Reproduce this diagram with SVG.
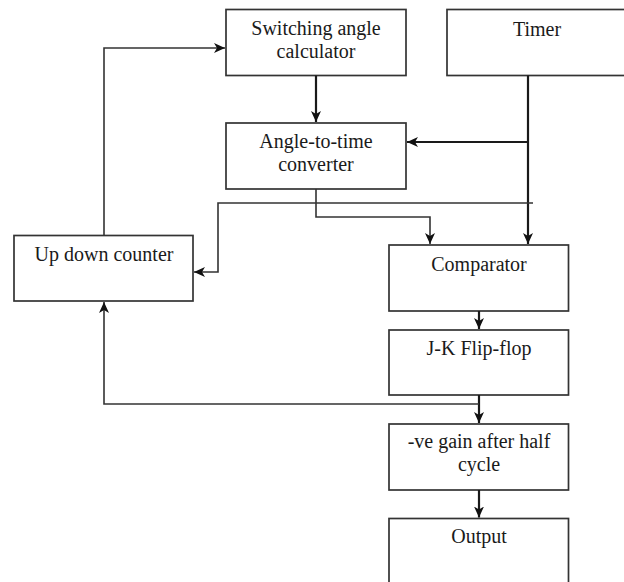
<svg xmlns="http://www.w3.org/2000/svg" width="624" height="582" viewBox="0 0 624 582">
<style>
  .box { fill: #fff; stroke: #333; stroke-width: 1.7; }
  .lbl { font-family: "Liberation Serif", "Times New Roman", serif; font-size: 20px; fill: #1a1a1a; text-anchor: middle; }
  .w { fill: none; stroke: #1a1a1a; stroke-width: 2.2; }
  .t { fill: none; stroke: #333; stroke-width: 1.6; }
</style>
<defs>
  <marker id="ah" markerUnits="userSpaceOnUse" markerWidth="11" markerHeight="11" viewBox="0 0 11 11" refX="11" refY="5.5" orient="auto">
    <path d="M0,0.5 L11,5.5 L0,10.5 L3,5.5 Z" fill="#111"/>
  </marker>
</defs>
<rect width="624" height="582" fill="#fff"/>
<g id="switching">
  <rect class="box" x="226" y="9.5" width="180" height="66"/>
  <text class="lbl" x="316" y="35">Switching angle</text>
  <text class="lbl" x="316" y="58">calculator</text>
</g>
<g id="timer">
  <rect class="box" x="447" y="9.5" width="185" height="66"/>
  <text class="lbl" x="537" y="36">Timer</text>
</g>
<g id="angle">
  <rect class="box" x="226" y="123" width="180" height="66"/>
  <text class="lbl" x="316" y="148">Angle-to-time</text>
  <text class="lbl" x="316" y="171">converter</text>
</g>
<g id="updown">
  <rect class="box" x="14" y="235.5" width="179" height="65.5"/>
  <text class="lbl" x="104" y="261">Up down counter</text>
</g>
<g id="comparator">
  <rect class="box" x="389" y="245" width="179.5" height="66"/>
  <text class="lbl" x="479" y="271">Comparator</text>
</g>
<g id="jk">
  <rect class="box" x="389" y="330" width="179.5" height="65"/>
  <text class="lbl" x="479" y="355">J-K Flip-flop</text>
</g>
<g id="gain">
  <rect class="box" x="389" y="424" width="179.5" height="66"/>
  <text class="lbl" x="479" y="448">-ve gain after half</text>
  <text class="lbl" x="479" y="471">cycle</text>
</g>
<g id="output">
  <rect class="box" x="389" y="518.5" width="179.5" height="80"/>
  <text class="lbl" x="479" y="543">Output</text>
</g>
<g id="connectors">
  <path class="t" d="M104,235.5 V48 H225" marker-end="url(#ah)"/>
  <path class="w" d="M316,75.5 V122" marker-end="url(#ah)"/>
  <path class="w" d="M528,75.5 V244" marker-end="url(#ah)"/>
  <path class="w" d="M528,142 H407" marker-end="url(#ah)"/>
  <path class="t" d="M316,189 V217 H430 V244" marker-end="url(#ah)"/>
  <path class="t" d="M533,203 H218 V272 H194" marker-end="url(#ah)"/>
  <path class="w" d="M479,311 V329" marker-end="url(#ah)"/>
  <path class="w" d="M479,395 V423" marker-end="url(#ah)"/>
  <path class="t" d="M479,404 H104 V302" marker-end="url(#ah)"/>
  <path class="w" d="M479,490 V517.5" marker-end="url(#ah)"/>
</g>
</svg>
